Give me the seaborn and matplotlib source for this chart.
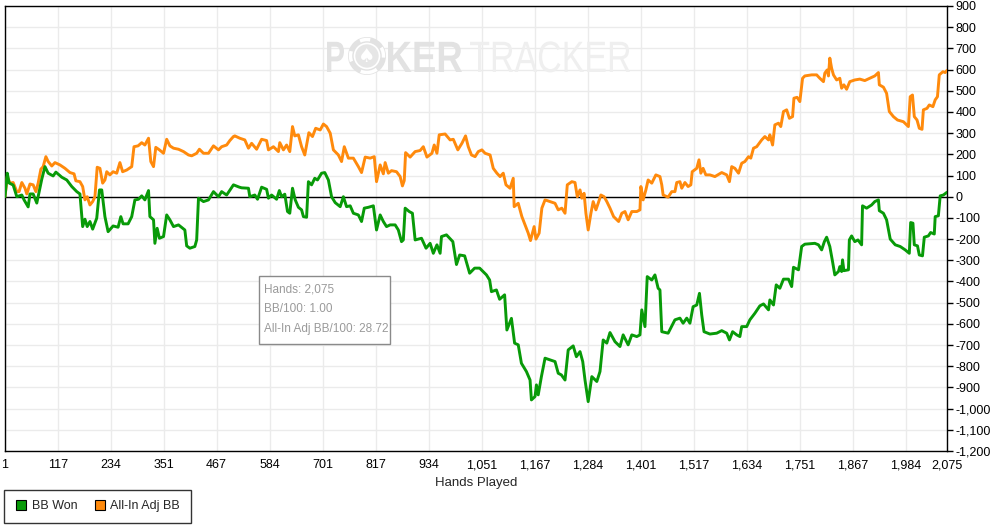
import numpy as np
import pandas as pd
import matplotlib
matplotlib.use("Agg")
import matplotlib.pyplot as plt
from matplotlib.lines import Line2D
from matplotlib.patches import Rectangle, Circle, PathPatch
from matplotlib.textpath import TextPath
from matplotlib.font_manager import FontProperties
from matplotlib.transforms import Affine2D
import seaborn as sns

# ---------------------------------------------
# data (hand number, cumulative BB)
won_hands = [1, 6, 10, 19, 27, 38, 43, 52, 56, 63, 71, 77, 82, 89, 96, 107, 113, 126, 137, 148,
             159, 166, 172, 177, 182, 188, 194, 203, 209, 214, 221, 228, 239, 250, 256, 261, 272,
             280, 287, 295, 302, 309, 317, 320, 328, 331, 336, 341, 350, 357, 364, 372, 383, 397,
             401, 408, 419, 423, 427, 438, 449, 460, 471, 478, 489, 504, 517, 522, 537, 540, 551,
             557, 566, 577, 581, 588, 599, 605, 610, 617, 623, 628, 634, 640, 647, 654, 658, 665,
             669, 676, 683, 689, 698, 705, 713, 720, 728, 739, 746, 753, 761, 768, 779, 786, 792,
             801, 812, 819, 827, 834, 841, 849, 860, 867, 874, 878, 882, 891, 898, 904, 918, 928,
             937, 944, 952, 959, 962, 973, 987, 995, 1002, 1013, 1024, 1035, 1046, 1061, 1068,
             1072, 1083, 1090, 1101, 1106, 1116, 1123, 1131, 1138, 1149, 1157, 1160, 1168, 1171,
             1175, 1182, 1190, 1201, 1212, 1219, 1226, 1234, 1241, 1252, 1259, 1267, 1273, 1278,
             1285, 1293, 1304, 1311, 1318, 1326, 1333, 1344, 1355, 1362, 1373, 1381, 1392, 1399,
             1403, 1410, 1415, 1425, 1432, 1439, 1443, 1447, 1461, 1476, 1487, 1494, 1502, 1509,
             1516, 1524, 1530, 1535, 1540, 1553, 1568, 1579, 1590, 1596, 1603, 1612, 1619, 1623,
             1634, 1641, 1652, 1663, 1671, 1682, 1685, 1693, 1699, 1707, 1715, 1726, 1733, 1737,
             1748, 1755, 1762, 1784, 1792, 1799, 1805, 1810, 1817, 1823, 1828, 1836, 1839, 1843,
             1845, 1848, 1858, 1860, 1865, 1872, 1879, 1887, 1889, 1898, 1909, 1916, 1924, 1926,
             1935, 1942, 1950, 1961, 1972, 1983, 1992, 1995, 2000, 2003, 2010, 2014, 2021, 2025,
             2034, 2039, 2047, 2049, 2056, 2060, 2067, 2075]
won_bb = [0, 111, 65, 55, 0, 8, -15, -48, 13, 13, -30, 32, 83, 142, 111, 98, 116, 92, 79, 48,
          24, 13, -141, -106, -141, -117, -153, -101, 32, 32, -94, -165, -138, -144, -94, -128, -128,
          -94, -15, -12, 4, -15, 29, -94, -109, -220, -149, -196, -188, -86, -109, -141, -133, -157,
          -232, -243, -235, -204, -7, -23, -15, 24, 0, 24, 8, 56, 45, 42, 40, 0, 8,
          -12, 45, 35, -7, 8, -12, 29, 0, 12, -70, -78, 40, -15, -50, -62, -94, -97,
          71, 56, 87, 79, 111, 114, 79, 0, -28, -47, 0, -47, -43, -78, -86, -117, -54,
          -50, -43, -157, -86, -117, -141, -133, -133, -157, -212, -204, -54, -70, -78, -204, -196, -243,
          -220, -267, -227, -267, -188, -180, -212, -320, -275, -279, -361, -337, -337, -369, -393,
          -448, -440, -484, -463, -629, -574, -691, -699, -786, -825, -865, -959, -943, -888,
          -935, -849, -762, -770, -778, -833, -841, -865, -723, -704, -755, -731, -778, -865,
          -967, -849, -872, -825, -676, -691, -641, -684, -707, -652, -699, -652, -660, -652,
          -534, -613, -377, -393, -369, -432, -440, -637, -644, -581, -573, -597, -573, -597,
          -519, -511, -456, -558, -637, -648, -644, -632, -644, -676, -637, -652, -660, -613,
          -613, -581, -550, -515, -506, -534, -487, -511, -416, -432, -389, -389, -424, -333,
          -345, -235, -224, -220, -227, -251, -212, -191, -235, -306, -369, -353, -330, -353,
          -298, -349, -345, -204, -185, -212, -204, -227, -43, -54, -39, -23, -15, -66,
          -78, -109, -200, -227, -235, -251, -267, -122, -125, -227, -232, -275, -279, -191,
          -185, -169, -176, -94, -90, 4, 8, 21]

adj_hands = [1, 6, 12, 19, 27, 32, 38, 45, 49, 56, 63, 69, 74, 80, 85, 91, 96, 104, 111, 122,
             133, 144, 153, 157, 166, 172, 177, 182, 188, 194, 199, 204, 210, 216, 221, 225, 232,
             239, 247, 254, 260, 269, 280, 285, 294, 302, 309, 317, 322, 328, 333, 341, 350, 357,
             364, 372, 383, 394, 405, 412, 423, 429, 438, 449, 460, 471, 478, 489, 496, 504, 507,
             518, 529, 537, 544, 555, 566, 577, 581, 592, 603, 606, 614, 621, 628, 634, 639, 647,
             654, 661, 670, 678, 685, 695, 702, 709, 717, 724, 735, 742, 748, 757, 768, 779, 786,
             794, 805, 814, 819, 827, 834, 838, 845, 852, 863, 871, 876, 880, 883, 893, 904, 915,
             922, 930, 941, 946, 952, 957, 970, 981, 988, 998, 1007, 1015, 1021, 1028, 1036, 1043,
             1051, 1058, 1069, 1076, 1084, 1091, 1098, 1104, 1113, 1120, 1122, 1131, 1139, 1146,
             1153, 1158, 1166, 1170, 1177, 1183, 1190, 1201, 1212, 1219, 1227, 1234, 1239, 1249,
             1256, 1261, 1267, 1271, 1276, 1280, 1285, 1291, 1296, 1302, 1307, 1313, 1320, 1326,
             1333, 1341, 1352, 1359, 1366, 1373, 1381, 1392, 1399, 1401, 1406, 1412, 1417, 1425,
             1434, 1443, 1447, 1450, 1461, 1469, 1476, 1480, 1487, 1491, 1498, 1505, 1511, 1514,
             1524, 1529, 1533, 1538, 1544, 1553, 1564, 1579, 1590, 1596, 1601, 1608, 1616, 1623,
             1630, 1638, 1643, 1649, 1656, 1667, 1674, 1682, 1685, 1691, 1696, 1704, 1709, 1715,
             1722, 1728, 1735, 1738, 1745, 1751, 1757, 1762, 1777, 1788, 1795, 1803, 1806, 1811,
             1814, 1817, 1821, 1825, 1832, 1839, 1843, 1848, 1854, 1861, 1872, 1883, 1894, 1905,
             1916, 1924, 1926, 1935, 1942, 1948, 1957, 1966, 1979, 1990, 1994, 1999, 2003, 2009,
             2014, 2020, 2023, 2031, 2036, 2044, 2049, 2054, 2058, 2066, 2071, 2075]
adj_bb = [0, 95, 64, 67, 24, 24, 67, 40, 13, 60, 56, 24, 64, 130, 142, 189, 166, 145, 161, 150,
          134, 114, 108, 75, 71, 48, -15, 0, -39, -23, 0, 139, 134, 64, 79, 118, 103,
          118, 111, 161, 118, 126, 142, 236, 240, 255, 244, 276, 166, 142, 233, 221, 205, 271,
          240, 229, 224, 213, 197, 193, 205, 224, 205, 205, 240, 221, 236, 244, 265, 284, 287,
          276, 268, 229, 252, 224, 271, 265, 221, 236, 213, 255, 221, 244, 213, 331, 287, 292,
          236, 197, 302, 284, 323, 315, 343, 331, 300, 221, 197, 166, 236, 182, 182, 142, 114,
          187, 182, 189, 71, 150, 108, 161, 111, 123, 118, 95, 51, 76, 208, 187, 213, 218,
          236, 187, 205, 244, 205, 292, 296, 268, 271, 221, 252, 287, 236, 197, 189, 213,
          221, 205, 197, 134, 111, 95, 111, 56, 40, 87, -47, -31, -94, -133,
          -172, -207, -141, -200, -172, -54, -15, -23, -31, -62, -54, -78, 56, 71,
          67, 0, 32, -7, 16, -78, -157, -78, -23, -62, -31, 8, 0, -23,
          -54, -94, -117, -78, -70, -109, -70, -70, -62, 48, -15, 32, 79, 64,
          103, 95, 56, 8, -2, 24, 24, 67, 71, 40, 67, 48, 56, 118,
          134, 174, 111, 134, 103, 103, 95, 114, 103, 71, 142, 134, 111, 158,
          166, 189, 182, 229, 236, 268, 284, 268, 292, 244, 339, 347, 331, 402,
          410, 370, 378, 465, 469, 449, 559, 570, 575, 575, 559, 543, 583, 598,
          570, 654, 606, 575, 551, 559, 512, 528, 507, 543, 551, 555, 548, 559,
          570, 586, 528, 517, 488, 402, 378, 362, 354, 331, 472, 480, 378, 362,
          323, 318, 410, 417, 433, 425, 457, 472, 575, 590, 586, 596]

x_ticks = [1, 117, 234, 351, 467, 584, 701, 817, 934, 1051, 1167, 1284, 1401, 1517, 1634,
           1751, 1867, 1984, 2075]
y_ticks = list(range(-1200, 1000, 100))
stats_lines = ["Hands: 2,075", "BB/100: 1.00", "All-In Adj BB/100: 28.72"]
series_names = ["BB Won", "All-In Adj BB"]

green = "#089a08"
orange = "#ff8a0c"

won_df = pd.DataFrame({"hands": won_hands, "bb": won_bb})
adj_df = pd.DataFrame({"hands": adj_hands, "bb": adj_bb})

# ---------------------------------------------
sns.set_style("white")
plt.rcParams["font.family"] = ["Liberation Sans", "DejaVu Sans"]

W, H = 993, 529
fig = plt.figure(figsize=(W / 100, H / 100), dpi=100)
ax = fig.add_axes([5 / W, 78 / H, 942 / W, 445 / H])
px = Affine2D().scale(1 / W, 1 / H) + fig.transFigure  # figure pixels, y from bottom

sns.lineplot(data=adj_df, x="hands", y="bb", ax=ax, color=orange, lw=2.1,
             estimator=None, sort=False, zorder=3)
sns.lineplot(data=won_df, x="hands", y="bb", ax=ax, color=green, lw=2.1,
             estimator=None, sort=False, zorder=4)
ax.axhline(0, color="black", lw=1, zorder=2)

ax.set_xlim(1, 2075)
ax.set_ylim(-1200, 900)
ax.set_xticks(x_ticks)
ax.set_xticklabels([f"{t:,}" for t in x_ticks])
ax.set_yticks(y_ticks)
ax.set_yticklabels([f"{t:,}" for t in y_ticks])
ax.yaxis.tick_right()
ax.tick_params(axis="both", direction="out", length=4, width=1, color="black",
               labelsize=9, labelcolor="black", pad=2)
ax.grid(True, color="#ebebeb", lw=1, zorder=0)
ax.set_axisbelow(True)
for s in ax.spines.values():
    s.set_color("black")
    s.set_linewidth(1)
ax.set_ylabel("")
ax.set_xlabel("Hands Played", fontsize=9.5, labelpad=4)


# watermark: condensed text paths
def wm_text(s, x0, x1, base, cap, color, weight):
    tp = TextPath((0, 0), s, size=100, prop=FontProperties(family="Liberation Sans", weight=weight))
    ext = tp.get_extents()
    sx = (x1 - x0) / ext.width
    sy = cap / 72.9
    tr = Affine2D().translate(-ext.x0, 0).scale(sx, sy).translate(x0, base)
    fig.patches.append(PathPatch(tp, transform=tr + px, fc=color, ec="none", zorder=1))


wm_text("P", 327, 344, H - 72, 32, "#e2e2e2", "bold")
wm_text("KER", 388, 462, H - 72, 32, "#e2e2e2", "bold")
wm_text("TRACKER", 470, 630, H - 72, 32, "#efefef", "normal")
chip = (367, H - 56)
fig.patches.append(Circle(chip, 19, transform=px, fc="#e2e2e2", ec="none"))
fig.patches.append(Circle(chip, 16.5, transform=px, fc="none", ec="white", lw=2.5, ls=(0, (3, 4))))
fig.patches.append(Circle(chip, 12.5, transform=px, fc="#e6e6e6", ec="white", lw=1.2))
fig.text(chip[0] / W, chip[1] / H, "\u2660", ha="center", va="center", fontsize=14,
         color="white", family="DejaVu Sans")

# stats box
fig.patches.append(Rectangle((259, H - 344), 131, 68, transform=px,
                             fc="white", ec="#8a8a8a", lw=1, zorder=5))
for i, line in enumerate(stats_lines):
    fig.text(264 / W, 1 - (289 + 20 * i) / H, line, ha="left", va="center",
             fontsize=8.5, color="#9a9a9a", zorder=6)

# legend
handles = [Line2D([], [], marker="s", ls="none", mfc=c, mec="black", mew=0.8, ms=7)
           for c in (green, orange)]
leg = fig.legend(handles, series_names, loc="lower left", bbox_to_anchor=(4 / W, 6 / H),
                 ncol=2, frameon=True, fancybox=False, edgecolor="black", fontsize=9,
                 handletextpad=0.35, columnspacing=1.3, borderpad=0.85, handlelength=1.0,
                 borderaxespad=0)
leg.get_frame().set_linewidth(1)

fig.savefig("out.png", dpi=100)
